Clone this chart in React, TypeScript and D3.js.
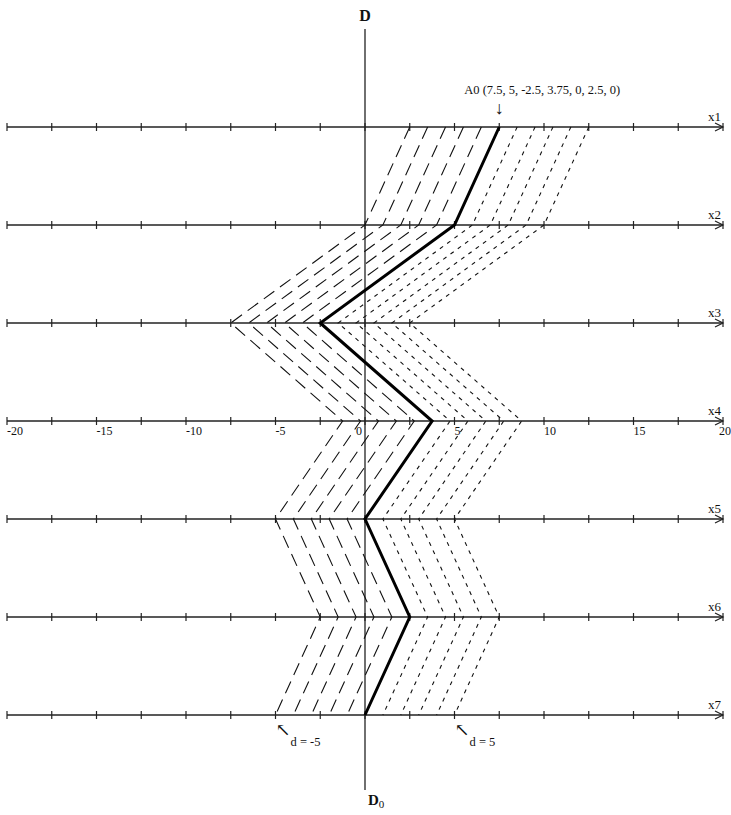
import React from "react";
import * as d3 from "d3";

const axisNames = ["x1", "x2", "x3", "x4", "x5", "x6", "x7"];
const A0 = [7.5, 5, -2.5, 3.75, 0, 2.5, 0];
const negShifts = [-5, -4, -3, -2, -1];
const posShifts = [1, 2, 3, 4, 5];
const tickValues = [-20, -17.5, -15, -12.5, -10, -7.5, -5, -2.5, 0, 2.5, 5, 7.5, 10, 12.5, 15, 17.5, 20];
const tickLabels = [-20, -15, -10, -5, 0, 5, 10, 15, 20];

const W = 731;
const H = 815;

export default function App() {
  const x = d3.scaleLinear().domain([-20, 20]).range([7, 723]);
  const y = d3.scalePoint<string>().domain(axisNames).range([127, 715]);
  const line = d3
    .line<number>()
    .x((v) => x(v))
    .y((_, i) => y(axisNames[i]) as number);

  const font = "'Liberation Serif', 'DejaVu Serif', serif";
  const labelAxis = "x4";

  return (
    <svg
      width={W}
      height={H}
      style={{ position: "absolute", left: 0, top: 0, background: "#fff" }}
      fontFamily={font}
    >
      {/* horizontal axes */}
      {axisNames.map((name) => {
        const yy = y(name) as number;
        return (
          <g key={name}>
            <line x1={x(-20)} x2={x(20)} y1={yy} y2={yy} stroke="#222" strokeWidth={1.3} />
            {tickValues.map((t) => (
              <line key={t} x1={x(t)} x2={x(t)} y1={yy - 4} y2={yy + 4} stroke="#222" strokeWidth={1.2} />
            ))}
            <path
              d={`M${x(20) - 8},${yy - 4} L${x(20)},${yy} L${x(20) - 8},${yy + 4}`}
              fill="none"
              stroke="#222"
              strokeWidth={1.2}
            />
            <text x={x(20) - 15} y={yy - 6} fontSize={13} fill="#111">
              {name}
            </text>
            {name === labelAxis &&
              tickLabels.map((t) => (
                <text
                  key={t}
                  x={t === 0 ? x(t) - 3 : t === 20 ? x(t) - 4 : x(t)}
                  y={yy + 14}
                  fontSize={12}
                  textAnchor={t === 0 ? "end" : "start"}
                  fill="#111"
                >
                  {t}
                </text>
              ))}
          </g>
        );
      })}

      {/* vertical D axis */}
      <line x1={x(0)} x2={x(0)} y1={29} y2={790} stroke="#222" strokeWidth={1.3} />
      <text x={x(0)} y={21} fontSize={16} fontWeight="bold" textAnchor="middle" fill="#111">
        D
      </text>
      <text x={x(0) + 3} y={805} fontSize={15} fontWeight="bold" fill="#111">
        D
        <tspan fontSize={11} fontWeight="normal" dy={3}>
          0
        </tspan>
      </text>

      {/* shifted lines */}
      {negShifts.map((d) => (
        <path
          key={d}
          d={line(A0.map((v) => v + d)) as string}
          fill="none"
          stroke="#111"
          strokeWidth={1.1}
          strokeDasharray="13 7"
        />
      ))}
      {posShifts.map((d) => (
        <path
          key={d}
          d={line(A0.map((v) => v + d)) as string}
          fill="none"
          stroke="#111"
          strokeWidth={1.1}
          strokeDasharray="4 5"
        />
      ))}

      {/* A0 bold */}
      <path d={line(A0) as string} fill="none" stroke="#000" strokeWidth={3} strokeLinejoin="miter" />

      {/* annotations */}
      <text x={x(A0[0]) - 35} y={94} fontSize={12.5} fill="#111">
        A0 (7.5, 5, -2.5, 3.75, 0, 2.5, 0)
      </text>
      <text x={x(A0[0])} y={114} fontSize={18} textAnchor="middle" fill="#111">
        ↓
      </text>
      <text x={x(-5)} y={736} fontSize={18} fill="#111">
        ↖
      </text>
      <text x={x(-5) + 15} y={746} fontSize={12.5} fill="#111">
        d = -5
      </text>
      <text x={x(5)} y={736} fontSize={18} fill="#111">
        ↖
      </text>
      <text x={x(5) + 15} y={746} fontSize={12.5} fill="#111">
        d = 5
      </text>
    </svg>
  );
}
